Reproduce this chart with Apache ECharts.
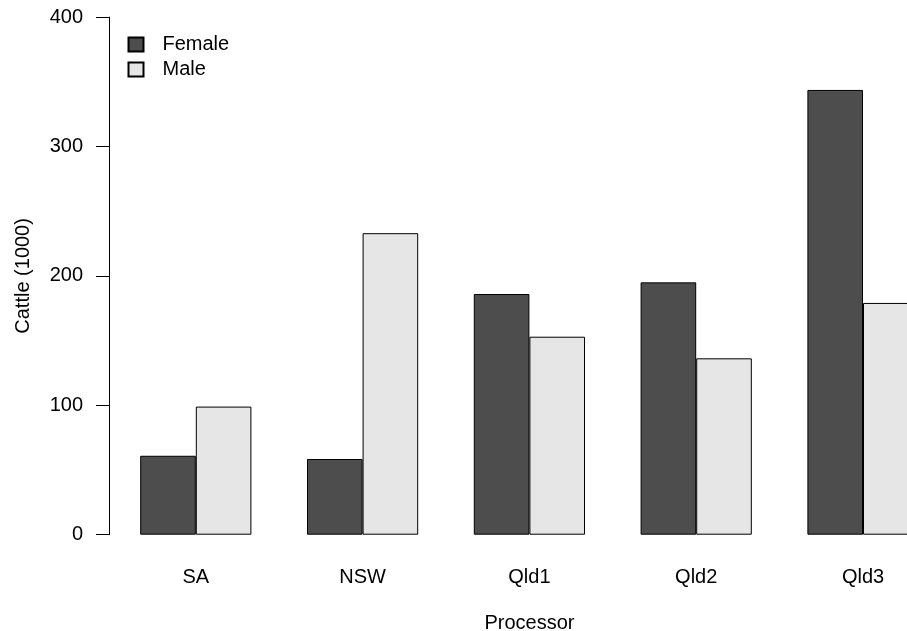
<!DOCTYPE html>
<html>
<head>
<meta charset="utf-8">
<script src="https://cdn.jsdelivr.net/npm/echarts@6/dist/echarts.min.js"></script>
<style>
html,body{margin:0;padding:0;background:#fff;}
#chart{width:907px;height:631px;}
</style>
</head>
<body>
<div id="chart"></div>
<script>
const categories = ["SA", "NSW", "Qld1", "Qld2", "Qld3"];
const female = [61, 58.5, 186, 195, 343.7];
const male = [99, 233, 153, 136.3, 179.1];
const yTicks = [0, 100, 200, 300, 400];

const FONT = "Liberation Sans, Arial, sans-serif";
const chart = echarts.init(document.getElementById('chart'), null, {renderer: 'canvas'});
chart.setOption({
  backgroundColor: '#ffffff',
  animation: false,
  textStyle: {fontFamily: FONT},
  grid: {left: 112.4, right: -39.4, top: 17.1, bottom: 96.3, containLabel: false, outerBoundsMode: 'none'},
  legend: {
    orient: 'vertical',
    left: 127.5, top: 34.5,
    padding: 0,
    itemWidth: 15, itemHeight: 14, itemGap: 5,
    icon: 'rect',
    textStyle: {fontSize: 20, color: '#000', fontFamily: FONT, padding: [0, 0, 0, 14]},
    data: ['Female', 'Male']
  },
  xAxis: {
    type: 'category',
    data: categories,
    boundaryGap: true,
    axisLine: {show: false},
    axisTick: {show: false},
    axisLabel: {fontSize: 20, color: '#000', margin: 33, fontFamily: FONT},
    name: 'Processor',
    nameLocation: 'middle',
    nameGap: 79,
    nameTextStyle: {fontSize: 20, color: '#000', fontFamily: FONT}
  },
  yAxis: {
    type: 'value',
    min: yTicks[0], max: yTicks[yTicks.length - 1], interval: 100,
    offset: 3.4,
    splitLine: {show: false},
    axisLine: {show: true, lineStyle: {color: '#000', width: 1}},
    axisTick: {show: true, length: 13, lineStyle: {color: '#000', width: 1}},
    axisLabel: {fontSize: 20, color: '#000', margin: 26, fontFamily: FONT},
    name: 'Cattle (1000)',
    nameLocation: 'middle',
    nameGap: 76,
    nameRotate: 90,
    nameTextStyle: {fontSize: 20, color: '#000', fontFamily: FONT}
  },
  series: [
    {
      name: 'Female', type: 'bar', data: female,
      barWidth: 55.6, barGap: '0%',
      itemStyle: {color: '#4d4d4d', borderColor: '#000', borderWidth: 1}
    },
    {
      name: 'Male', type: 'bar', data: male,
      barWidth: 55.6, barGap: '0%',
      itemStyle: {color: '#e6e6e6', borderColor: '#000', borderWidth: 1}
    }
  ]
});
</script>
</body>
</html>
